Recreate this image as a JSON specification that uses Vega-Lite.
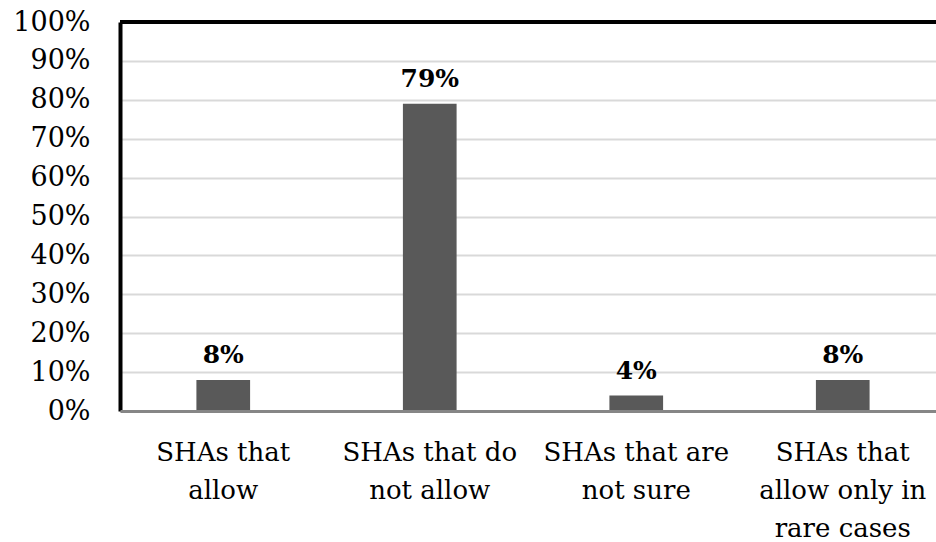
{
  "$schema": "https://vega.github.io/schema/vega-lite/v6.json",
  "width": 826,
  "height": 389,
  "autosize": {"type": "none"},
  "padding": {"left": 120, "top": 22, "right": 0, "bottom": 131},
  "background": "white",
  "config": {
    "view": {"stroke": null},
    "font": "DejaVu Serif",
    "axisY": {
      "title": null,
      "format": ".0%",
      "labelOverlap": false,
      "labelFont": "DejaVu Serif",
      "labelFontSize": 27,
      "labelColor": "#000000",
      "labelPadding": 30,
      "ticks": false,
      "tickSize": 0,
      "domainColor": "#000000",
      "domainWidth": 4,
      "grid": true,
      "gridColor": "#d9d9d9",
      "gridWidth": 2,
      "zindex": 0
    }
  },
  "data": {
    "values": [
      {"category": "SHAs that|allow", "value": 0.08},
      {"category": "SHAs that do|not allow", "value": 0.79},
      {"category": "SHAs that are|not sure", "value": 0.04},
      {"category": "SHAs that|allow only in|rare cases", "value": 0.08}
    ]
  },
  "layer": [
    {
      "mark": {"type": "bar", "color": "#595959"},
      "encoding": {
        "x": {
          "field": "category",
          "type": "nominal",
          "sort": null,
          "scale": {"paddingInner": 0.74, "paddingOuter": 0.37},
          "axis": {
            "title": null,
            "labelAngle": 0,
            "labelExpr": "split(datum.label, '|')",
            "labelFont": "DejaVu Serif",
            "labelFontSize": 26,
            "labelColor": "#000000",
            "labelLineHeight": 38.3,
            "labelPadding": 28,
            "labelBaseline": "top",
            "labelLimit": 0,
            "ticks": false,
            "tickSize": 0,
            "domainColor": "#868686",
            "domainWidth": 3,
            "zindex": 1
          }
        },
        "y": {
          "field": "value",
          "type": "quantitative",
          "scale": {"domain": [0, 1], "nice": false},
          "axis": {"values": [0, 0.1, 0.2, 0.3, 0.4, 0.5, 0.6, 0.7, 0.8, 0.9, 1]}
        }
      }
    },
    {
      "mark": {
        "type": "text",
        "font": "DejaVu Serif",
        "fontWeight": "bold",
        "fontSize": 25,
        "color": "#000000",
        "baseline": "alphabetic",
        "dy": -16.5
      },
      "encoding": {
        "x": {"field": "category", "type": "nominal", "sort": null},
        "y": {
          "field": "value",
          "type": "quantitative",
          "axis": {"values": [0, 0.1, 0.2, 0.3, 0.4, 0.5, 0.6, 0.7, 0.8, 0.9, 1]}
        },
        "text": {"field": "value", "type": "quantitative", "format": ".0%"}
      }
    },
    {
      "mark": {"type": "rule", "color": "#000000", "strokeWidth": 4},
      "encoding": {
        "y": {
          "datum": 1,
          "type": "quantitative",
          "axis": {"values": [0, 0.1, 0.2, 0.3, 0.4, 0.5, 0.6, 0.7, 0.8, 0.9, 1]}
        }
      }
    }
  ]
}
